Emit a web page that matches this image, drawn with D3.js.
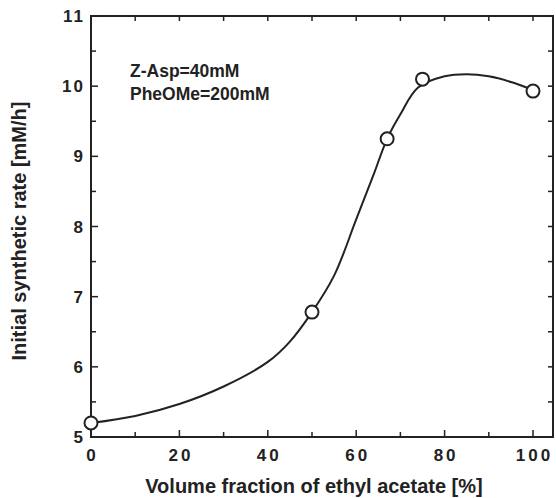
<!DOCTYPE html>
<html>
<head>
<meta charset="utf-8">
<script src="https://cdn.jsdelivr.net/npm/d3@7"></script>
<style>
  body { margin: 0; background: #fff; }
  text { font-family: "Liberation Sans", Arial, sans-serif; font-weight: bold; fill: #222; }
</style>
</head>
<body>
<div id="chart"></div>
<script>
// measured points
const fraction = [0, 50, 67, 75, 100];
const rate = [5.2, 6.78, 9.25, 10.1, 9.93];

// hand-drawn fitted curve
const curveX = [0, 10, 20, 30, 40, 45, 50, 55, 60, 64, 67, 70, 74, 80, 85, 90, 95, 99];
const curveY = [5.2, 5.3, 5.47, 5.72, 6.07, 6.36, 6.78, 7.3, 8.1, 8.75, 9.25, 9.6, 9.98, 10.14, 10.17, 10.14, 10.06, 9.97];

const xTickLabels = [0, 20, 40, 60, 80, 100];
const yTickLabels = [5, 6, 7, 8, 9, 10, 11];

const width = 556, height = 498;
const mLeft = 91, mRight = 553, mTop = 16, mBottom = 437;

const x = d3.scaleLinear().domain([0, 100]).range([mLeft, 533]);
const y = d3.scaleLinear().domain([5, 11]).range([mBottom, mTop]);

const svg = d3.select("#chart").append("svg")
    .attr("width", width)
    .attr("height", height);

// frame
svg.append("rect")
    .attr("x", mLeft).attr("y", mTop)
    .attr("width", mRight - mLeft).attr("height", mBottom - mTop)
    .attr("fill", "none").attr("stroke", "#222").attr("stroke-width", 2);

// inward ticks on all sides
const xt = d3.range(0, 101, 10);
const yt = d3.range(5, 11.01, 0.5);

svg.selectAll(".xb").data(xt).enter().append("line")
    .attr("x1", d => x(d)).attr("x2", d => x(d))
    .attr("y1", mBottom).attr("y2", d => mBottom - (d % 20 === 0 ? 7 : 5))
    .attr("stroke", "#222").attr("stroke-width", 1.5);
svg.selectAll(".xtp").data(xt).enter().append("line")
    .attr("x1", d => x(d)).attr("x2", d => x(d))
    .attr("y1", mTop).attr("y2", mTop + 5)
    .attr("stroke", "#222").attr("stroke-width", 1.5);
svg.selectAll(".yl").data(yt).enter().append("line")
    .attr("x1", mLeft).attr("x2", d => mLeft + (d % 1 === 0 ? 7 : 5))
    .attr("y1", d => y(d)).attr("y2", d => y(d))
    .attr("stroke", "#222").attr("stroke-width", 1.5);
svg.selectAll(".yr").data(yt).enter().append("line")
    .attr("x1", mRight).attr("x2", mRight - 5)
    .attr("y1", d => y(d)).attr("y2", d => y(d))
    .attr("stroke", "#222").attr("stroke-width", 1.5);

// tick labels
svg.selectAll(".xlab").data(xTickLabels).enter().append("text")
    .attr("x", d => x(d) + 1.5).attr("y", 461)
    .attr("text-anchor", "middle")
    .style("font-size", "17px").style("letter-spacing", "3px")
    .text(d => d);

svg.selectAll(".ylab").data(yTickLabels).enter().append("text")
    .attr("x", 85).attr("y", d => y(d) + 6)
    .attr("text-anchor", "end")
    .style("font-size", "17px").style("letter-spacing", "2px")
    .text(d => d);

// axis titles
svg.append("text")
    .attr("x", 314).attr("y", 493)
    .attr("text-anchor", "middle")
    .style("font-size", "20px")
    .text("Volume fraction of ethyl acetate [%]");

svg.append("text")
    .attr("transform", "translate(26, 231) rotate(-90)")
    .attr("text-anchor", "middle")
    .style("font-size", "20px")
    .text("Initial synthetic rate [mM/h]");

// annotation
svg.append("text").attr("x", 130).attr("y", 77)
    .style("font-size", "17.5px").text("Z-Asp=40mM");
svg.append("text").attr("x", 130).attr("y", 100)
    .style("font-size", "17.5px").text("PheOMe=200mM");

// curve
const line = d3.line()
    .x(d => x(d[0]))
    .y(d => y(d[1]))
    .curve(d3.curveCatmullRom);

svg.append("path")
    .datum(d3.zip(curveX, curveY))
    .attr("d", line)
    .attr("fill", "none")
    .attr("stroke", "#222")
    .attr("stroke-width", 2);

// points
svg.selectAll(".pt").data(d3.zip(fraction, rate)).enter().append("circle")
    .attr("cx", d => x(d[0])).attr("cy", d => y(d[1]))
    .attr("r", 6.5)
    .attr("fill", "#fff").attr("stroke", "#222").attr("stroke-width", 2);
</script>
</body>
</html>
